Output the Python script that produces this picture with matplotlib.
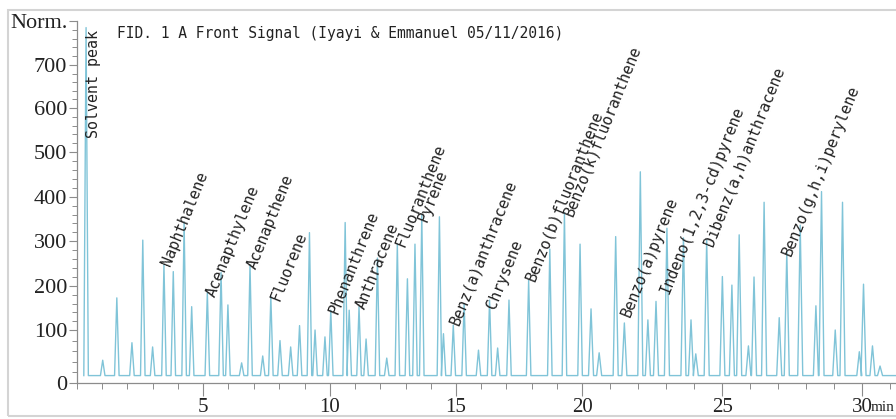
import matplotlib
matplotlib.use("Agg")
import matplotlib.pyplot as plt
import numpy as np
from matplotlib.patches import Rectangle
from matplotlib.ticker import FixedLocator, MultipleLocator

# retention time (min) and signal (Norm.) of each peak apex
PEAK_TIMES = [0.36, 1.02, 1.58, 2.18, 2.61, 3.00, 3.45, 3.82, 4.25, 4.55,
              5.17, 5.71, 5.98, 6.52, 6.85, 7.35, 7.67, 8.03, 8.45, 8.80,
              9.19, 9.41, 9.80, 10.03, 10.60, 10.76, 11.15, 11.43, 11.88, 12.25,
              12.67, 13.07, 13.37, 13.64, 14.34, 14.50, 14.89, 15.32, 15.89, 16.33,
              16.65, 17.10, 17.88, 18.72, 19.30, 19.92, 20.32, 20.61, 21.20, 21.51,
              22.08, 22.35, 22.64, 23.03, 23.62, 23.89, 24.06, 24.45, 25.01, 25.35,
              25.61, 25.94, 26.14, 26.50, 27.04, 27.31, 27.79, 28.35, 28.55, 29.04,
              29.30, 29.90, 30.05, 30.37, 30.64]
PEAK_HEIGHTS = [785, 43, 173, 76, 302, 68, 247, 232, 343, 153,
                185, 230, 157, 38, 247, 51, 176, 80, 68, 110,
                319, 100, 87, 145, 342, 145, 153, 83, 262, 47,
                293, 216, 293, 359, 355, 93, 111, 160, 62, 168,
                66, 168, 213, 282, 364, 293, 148, 57, 310, 116,
                456, 123, 165, 329, 307, 123, 55, 302, 221, 202,
                314, 70, 220, 388, 128, 276, 336, 155, 412, 100,
                388, 59, 204, 70, 32]
BASELINE = 14
RUN_END = 31.2

# compound names and where each label starts (min, Norm.)
COMPOUNDS = ["Naphthalene", "Acenapthylene", "Acenapthene", "Fluorene",
             "Phenanthrene", "Anthracene", "Fluoranthene", "Pyrene",
             "Benz(a)anthracene", "Chrysene", "Benzo(b)fluoranthene",
             "Benzo(k)fluoranthene", "Benzo(a)pyrene", "Indeno(1,2,3-cd)pyrene",
             "Dibenz(a,h)anthracene", "Benzo(g,h,i)perylene"]
LABEL_TIMES = [3.68, 5.47, 7.09, 7.99, 10.29, 11.39, 12.94, 13.82, 15.09, 16.55,
               18.10, 19.62, 21.71, 23.11, 24.68, 27.45]
LABEL_LEVELS = [242, 173, 236, 164, 135, 145, 284, 342, 108, 145,
                209, 355, 127, 180, 287, 264]
SOLVENT_LABEL = ("Solvent peak", 0.85, 532)

TITLE = "FID. 1 A Front Signal (Iyayi & Emmanuel 05/11/2016)"

# the scanned axes are not evenly spaced: tick value -> pixel offset
X_TICK_MIN = [-10, 0, 5, 10, 15, 20, 25, 30, 40]
X_TICK_PX = [-175, 0, 126, 253, 379, 505, 645, 785, 1065]
Y_TICK_VAL = [-100, 0, 100, 200, 300, 400, 500, 600, 700, 800, 900]
Y_TICK_PX = [-53, 0, 53, 97, 142, 186, 231, 275, 318, 362, 406]

LINE_COLOR = "#80c4d8"
AXIS_COLOR = "#8c8c8c"
MONO = "DejaVu Sans Mono"

plt.rcParams["font.family"] = ["Liberation Serif", "DejaVu Serif"]


def x_fwd(t):
    return np.interp(t, X_TICK_MIN, X_TICK_PX)


def x_inv(p):
    return np.interp(p, X_TICK_PX, X_TICK_MIN)


def y_fwd(v):
    return np.interp(v, Y_TICK_VAL, Y_TICK_PX)


def y_inv(p):
    return np.interp(p, Y_TICK_PX, Y_TICK_VAL)


if __name__ == "__main__":
    half = 0.09
    t_pts, y_pts = [], []
    for t, h in zip(PEAK_TIMES, PEAK_HEIGHTS):
        t_pts += [t - half, t, t + half]
        y_pts += [BASELINE, h, BASELINE]
    t_pts.append(RUN_END)
    y_pts.append(BASELINE)

    fig = plt.figure(figsize=(8.96, 4.19), dpi=100)
    ax = fig.add_axes([77 / 896, 36 / 419, 819 / 896, 362 / 419])

    ax.plot(t_pts, y_pts, color=LINE_COLOR, lw=1.0, clip_on=False)

    ax.set_xscale("function", functions=(x_fwd, x_inv))
    ax.set_yscale("function", functions=(y_fwd, y_inv))
    ax.set_xlim(0, 31.21)
    ax.set_ylim(0, 800)

    ax.xaxis.set_major_locator(FixedLocator([5, 10, 15, 20, 25, 30]))
    ax.xaxis.set_minor_locator(MultipleLocator(1))
    ax.set_xticklabels(["5", "10", "15", "20", "25", "30"])
    ax.yaxis.set_major_locator(FixedLocator([0, 100, 200, 300, 400, 500, 600, 700, 800]))
    ax.yaxis.set_minor_locator(MultipleLocator(20))
    ax.set_yticklabels(["0", "100", "200", "300", "400", "500", "600", "700", "Norm."])
    ax.get_yticklabels()[-1].set_fontsize(14.5)

    for side in ("top", "right"):
        ax.spines[side].set_visible(False)
    for side in ("left", "bottom"):
        ax.spines[side].set_color(AXIS_COLOR)
        ax.spines[side].set_linewidth(0.9)

    ax.tick_params(axis="y", which="major", length=6, width=0.8, color=AXIS_COLOR,
                   pad=1, labelsize=16, labelcolor="#222222")
    ax.tick_params(axis="y", which="minor", length=3.5, width=0.7, color=AXIS_COLOR)
    ax.tick_params(axis="x", which="major", length=9, width=0.8, color=AXIS_COLOR,
                   pad=2, labelsize=15, labelcolor="#222222")
    ax.tick_params(axis="x", which="minor", length=4.5, width=0.7, color=AXIS_COLOR)

    ax.annotate("min", xy=(30, 0), xycoords="data", xytext=(6, -20),
                textcoords="offset points", ha="left", va="baseline",
                fontsize=11, color="#222222", annotation_clip=False)

    name, t0, v0 = SOLVENT_LABEL
    ax.text(t0, v0, name, rotation=90, rotation_mode="anchor", ha="left",
            va="baseline", family=MONO, fontsize=10.8, color="#222222")
    for name, t0, v0 in zip(COMPOUNDS, LABEL_TIMES, LABEL_LEVELS):
        ax.text(t0, v0, name, rotation=68, rotation_mode="anchor", ha="left",
                va="baseline", family=MONO, fontsize=11, color="#222222")

    fig.text(117 / 896, 1 - 38 / 419, TITLE, family=MONO, fontsize=10.5,
             va="baseline", color="#222222")

    fig.patches.append(Rectangle((8 / 896, 3 / 419), 1.0, 406 / 419,
                                 transform=fig.transFigure, fill=False,
                                 edgecolor="#d4d4d4", lw=1.5))

    fig.savefig("out.png", dpi=100)
    plt.close(fig)
